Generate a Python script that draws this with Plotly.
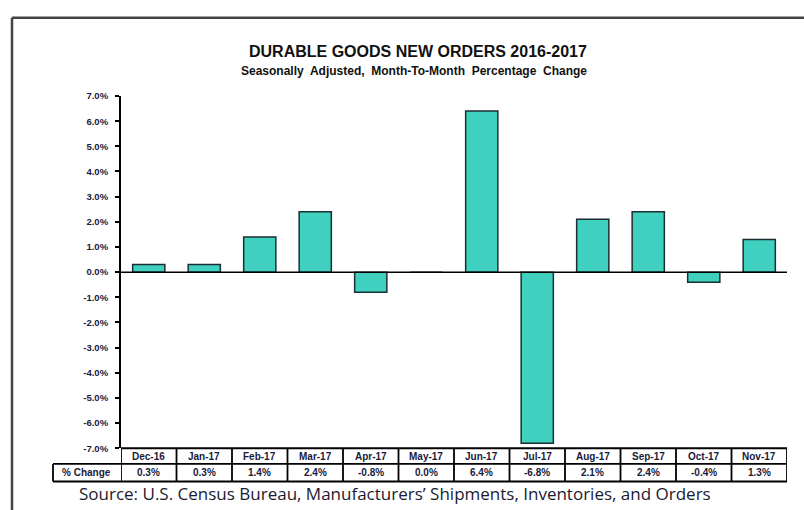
import plotly.graph_objects as go

months = ["Dec-16", "Jan-17", "Feb-17", "Mar-17", "Apr-17", "May-17",
          "Jun-17", "Jul-17", "Aug-17", "Sep-17", "Oct-17", "Nov-17"]
pct_change = [0.3, 0.3, 1.4, 2.4, -0.8, 0.0, 6.4, -6.8, 2.1, 2.4, -0.4, 1.3]
y_ticks = [7, 6, 5, 4, 3, 2, 1, 0, -1, -2, -3, -4, -5, -6, -7]

W, H = 804, 510
def py(pix):
    return 1 - pix / H

x0p, x1p = 121, 787
y_top, y_bot = 92, 452

fig = go.Figure()
fig.add_trace(go.Bar(
    x=list(range(len(months))), y=pct_change, width=0.58,
    marker=dict(color="#3FD0C0", line=dict(color="#1b2d33", width=1.5)),
    hoverinfo="skip", showlegend=False,
))

text_color = "#1a1a3a"
shapes = []
annotations = []

# outer frame
shapes.append(dict(type="line", xref="paper", yref="paper", x0=12 / W, x1=1.01,
                   y0=py(12), y1=py(12), line=dict(color="#444", width=2.5)))
shapes.append(dict(type="line", xref="paper", yref="paper", x0=12 / W, x1=12 / W,
                   y0=py(12), y1=-0.01, line=dict(color="#444", width=2.5)))

# zero line
shapes.append(dict(type="line", xref="x", yref="y", x0=-0.5, x1=len(months) - 0.5,
                   y0=0, y1=0, line=dict(color="black", width=1.5)))

# data table
r0, r1, r2 = 452, 468, 486
lw = dict(color="black", width=1.8)
shapes.append(dict(type="line", xref="x", yref="paper", x0=-0.5, x1=len(months) - 0.5,
                   y0=py(r0), y1=py(r0), line=lw))
shapes.append(dict(type="line", xref="paper", yref="paper", x0=53 / W, x1=x1p / W,
                   y0=py(r1), y1=py(r1), line=lw))
shapes.append(dict(type="line", xref="paper", yref="paper", x0=53 / W, x1=x1p / W,
                   y0=py(r2), y1=py(r2), line=lw))
shapes.append(dict(type="line", xref="paper", yref="paper", x0=53 / W, x1=53 / W,
                   y0=py(r1), y1=py(r2), line=lw))
for i in range(len(months) + 1):
    shapes.append(dict(type="line", xref="x", yref="paper", x0=i - 0.5, x1=i - 0.5,
                       y0=py(r0), y1=py(r2), line=lw))

tfont = dict(family="Liberation Sans", size=10, color=text_color)
for i, (m, v) in enumerate(zip(months, pct_change)):
    annotations.append(dict(x=i, y=py((r0 + r1) / 2), xref="x", yref="paper",
                            text=f"<b>{m}</b>", showarrow=False, font=tfont,
                            xanchor="center", yanchor="middle"))
    annotations.append(dict(x=i, y=py((r1 + r2) / 2), xref="x", yref="paper",
                            text=f"<b>{v:.1f}%</b>", showarrow=False, font=tfont,
                            xanchor="center", yanchor="middle"))
annotations.append(dict(x=86 / W, y=py((r1 + r2) / 2), xref="paper", yref="paper",
                        text="<b>% Change</b>", showarrow=False, font=tfont,
                        xanchor="center", yanchor="middle"))

# titles
annotations.append(dict(x=418 / W, y=py(47), xref="paper", yref="paper",
                        text="<b>DURABLE GOODS NEW ORDERS 2016-2017</b>", showarrow=False,
                        font=dict(family="Liberation Sans", size=16, color="#111"),
                        xanchor="center", yanchor="middle"))
annotations.append(dict(x=414 / W, y=py(66), xref="paper", yref="paper",
                        text="<b>Seasonally  Adjusted,  Month-To-Month  Percentage  Change</b>", showarrow=False,
                        font=dict(family="Liberation Sans", size=12, color="#111"),
                        xanchor="center", yanchor="middle"))
annotations.append(dict(x=77 / W, y=py(498), xref="paper", yref="paper",
                        text="Source: U.S. Census Bureau, Manufacturers\u2019 Shipments, Inventories, and Orders",
                        showarrow=False,
                        font=dict(family="Open Sans", size=17, color="#1a1a30"),
                        xanchor="left", yanchor="middle"))

fig.update_layout(
    width=W, height=H,
    margin=dict(l=0, r=0, t=0, b=0),
    paper_bgcolor="white", plot_bgcolor="white",
    shapes=shapes, annotations=annotations,
    xaxis=dict(domain=[x0p / W, x1p / W], range=[-0.5, len(months) - 0.5],
               showticklabels=False, showgrid=False, zeroline=False, showline=False,
               fixedrange=True),
    yaxis=dict(domain=[py(y_bot), py(y_top)], range=[-7, 7],
               tickvals=y_ticks, ticktext=[f"<b>{t:.1f}%</b>" for t in y_ticks],
               ticks="outside", ticklen=4, tickwidth=1.5, tickcolor="black",
               showline=True, linecolor="black", linewidth=2,
               showgrid=False, zeroline=False,
               tickfont=dict(family="Liberation Sans", size=9.5, color=text_color),
               ticklabelstandoff=5, fixedrange=True),
    bargap=0.4,
)

fig.write_html("out.html", config={"displayModeBar": False},
               post_script="document.body.style.margin='0';document.body.style.overflow='hidden';")
